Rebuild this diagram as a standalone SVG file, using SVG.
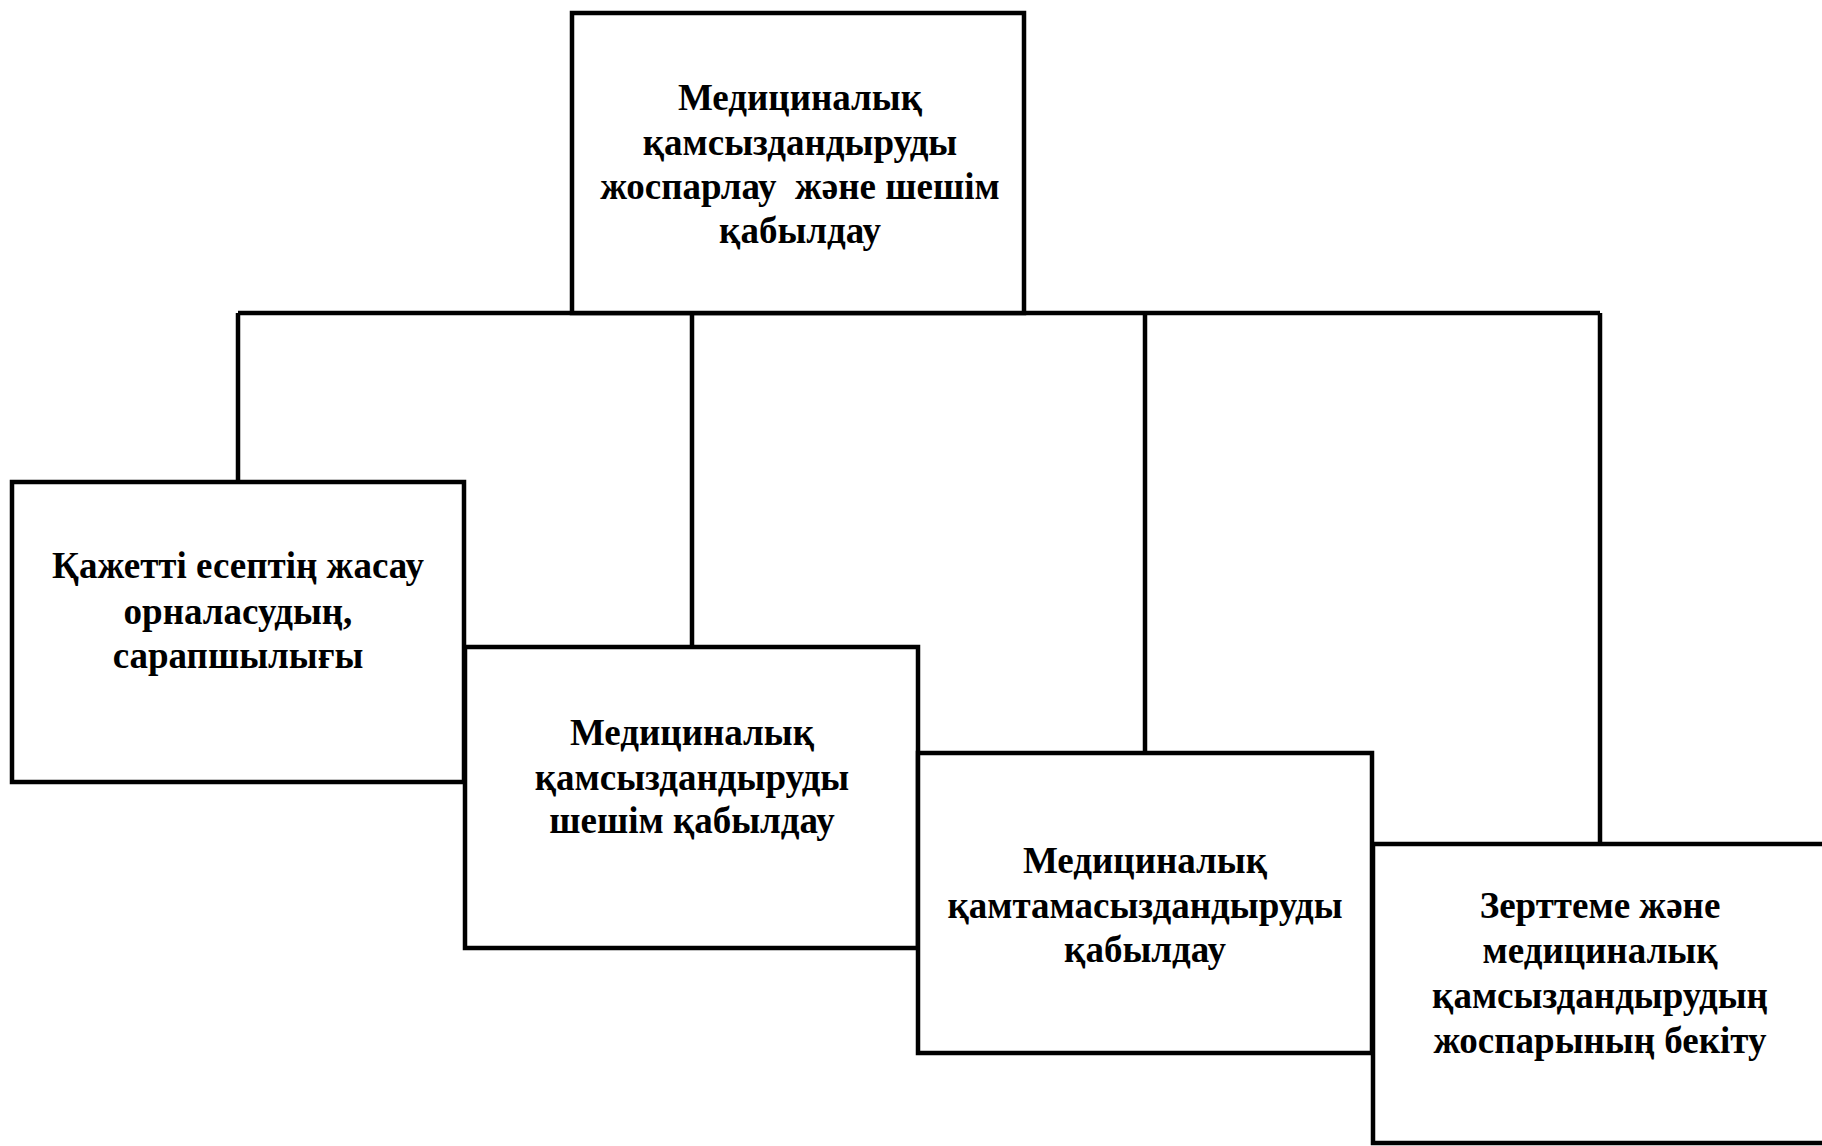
<svg xmlns="http://www.w3.org/2000/svg" width="1822" height="1146" viewBox="0 0 1822 1146">
<style>
.box{fill:#fff;stroke:#000;stroke-width:4.5}
.conn{stroke:#000;stroke-width:4.5;fill:none}
text{font-family:"Liberation Serif","Times New Roman",serif;font-weight:bold;font-size:37px;fill:#000;text-anchor:middle;white-space:pre}
</style>
<rect width="1822" height="1146" fill="#fff"/>
<g id="connectors">
<line class="conn" x1="238" y1="313" x2="1600" y2="313"/>
<line class="conn" x1="238" y1="313" x2="238" y2="482"/>
<line class="conn" x1="692" y1="313" x2="692" y2="647"/>
<line class="conn" x1="1145" y1="313" x2="1145" y2="753"/>
<line class="conn" x1="1600" y1="313" x2="1600" y2="844"/>
</g>
<g id="node-top">
<rect class="box" x="572" y="13" width="452" height="300"/>
<text x="800" y="110">Медициналық</text>
<text x="800" y="155">қамсыздандыруды</text>
<text x="800" y="199" xml:space="preserve">жоспарлау  және шешім</text>
<text x="800" y="243">қабылдау</text>
</g>
<g id="node-1">
<rect class="box" x="12" y="482" width="452" height="300"/>
<text x="238" y="578">Қажетті есептің жасау</text>
<text x="238" y="624">орналасудың,</text>
<text x="238" y="668">сарапшылығы</text>
</g>
<g id="node-2">
<rect class="box" x="465" y="647" width="453" height="301"/>
<text x="692" y="745">Медициналық</text>
<text x="692" y="790">қамсыздандыруды</text>
<text x="692" y="833">шешім қабылдау</text>
</g>
<g id="node-3">
<rect class="box" x="918" y="753" width="454" height="300"/>
<text x="1145" y="873">Медициналық</text>
<text x="1145" y="918">қамтамасыздандыруды</text>
<text x="1145" y="962">қабылдау</text>
</g>
<g id="node-4">
<rect class="box" x="1373" y="844" width="470" height="299"/>
<text x="1600" y="918">Зерттеме және</text>
<text x="1600" y="963">медициналық</text>
<text x="1600" y="1008">қамсыздандырудың</text>
<text x="1600" y="1053">жоспарының бекіту</text>
</g>
</svg>
